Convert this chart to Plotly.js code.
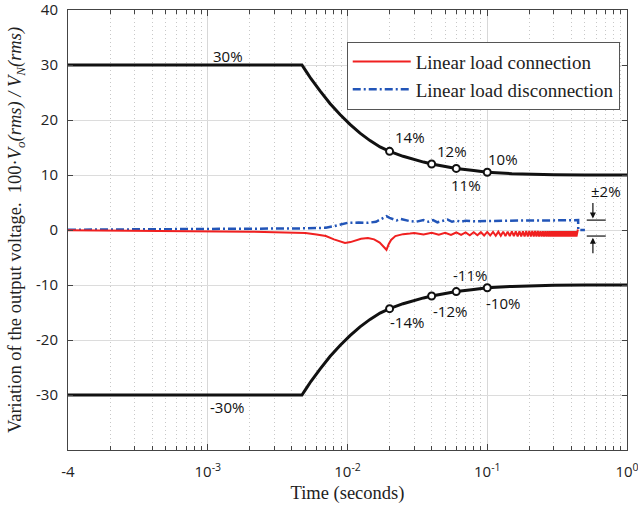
<!DOCTYPE html>
<html><head><meta charset="utf-8">
<script src="https://cdn.plot.ly/plotly-3.0.1.min.js"></script>
<style>html,body{margin:0;padding:0;background:#fff}#chart{width:638px;height:510px}</style>
</head><body><div id="chart"></div>
<script>
// Envelope (tolerance limits)
const envT   = [0.0001,0.00472,0.0051,0.00548,0.00636,0.00749,0.00884,0.01042,0.01229,0.01449,0.01709,0.020,0.025,0.030,0.035,0.040,0.050,0.060,0.080,0.100,0.150,0.200,0.300,0.500,1.0];
const envUp  = [30,30,28.7,27.5,25.3,23.0,21.0,19.2,17.6,16.25,15.1,14.3,13.4,12.8,12.35,12.0,11.5,11.2,10.8,10.5,10.25,10.15,10.05,10.0,10.0];
const envLow = [-30,-30,-28.7,-27.5,-25.3,-23.0,-21.0,-19.2,-17.6,-16.25,-15.1,-14.3,-13.4,-12.8,-12.35,-12.0,-11.5,-11.2,-10.8,-10.5,-10.25,-10.15,-10.05,-10.0,-10.0];
// Marked points on the envelope
const markT   = [0.02,0.04,0.06,0.1];
const markUp  = [14.3,12.0,11.2,10.5];
const markLow = [-14.3,-12.0,-11.2,-10.5];
// Linear load connection (red)
const redT = [0.0001,0.0003,0.001,0.002,0.003,0.004,0.005,0.006,0.007,0.008,0.009,0.0096,0.0105,0.0115,0.0125,0.014,0.0155,0.017,0.018,0.019,0.0197,0.0205,0.022,0.025,0.028,
  0.030,0.035,0.040,0.045,0.050,0.055,0.060,0.065,0.070,0.075,0.080,0.085,0.090,0.095,0.100,0.105,0.110,0.115,0.120,0.125,0.130,0.135,0.140,0.145,0.150,0.155,0.160,0.165,0.170,0.175,0.180,0.185,
  0.190,0.195,0.200,0.205,0.210,0.215,0.220,0.225,0.230,0.235,0.240,0.245,0.250,0.255,0.260,0.265,0.270,0.275,0.280,0.285,0.290,0.295,0.300,0.305,0.310,0.315,0.320,0.325,0.330,0.335,0.340,0.345,
  0.350,0.355,0.360,0.365,0.370,0.375,0.380,0.385,0.390,0.395,0.400,0.405,0.410,0.415,0.420,0.425,0.430,0.435,0.440,0.445,0.4465,0.447];
const redV = [-0.05,-0.1,-0.2,-0.3,-0.4,-0.45,-0.55,-0.8,-1.1,-1.7,-2.2,-2.35,-2.2,-1.9,-1.6,-1.45,-1.7,-2.3,-2.9,-3.6,-2.6,-1.8,-1.1,-0.75,-0.65,
  -0.55,-0.80,-0.50,-0.85,-0.50,-0.90,-0.45,-0.90,-0.45,-0.95,-0.40,-0.95,-0.40,-1.00,-0.35,-1.00,-0.35,-1.05,-0.30,-1.05,-0.30,-1.10,-0.30,-1.10,-0.25,-1.10,-0.25,-1.15,-0.25,-1.15,-0.25,-1.15,
  -0.20,-1.20,-0.20,-1.20,-0.20,-1.20,-0.20,-1.20,-0.20,-1.20,-0.20,-1.20,-0.20,-1.20,-0.20,-1.20,-0.20,-1.20,-0.20,-1.20,-0.20,-1.20,-0.20,-1.20,-0.20,-1.20,-0.20,-1.20,-0.20,-1.20,-0.20,-1.20,
  -0.20,-1.20,-0.20,-1.20,-0.20,-1.20,-0.20,-1.20,-0.20,-1.20,-0.20,-1.20,-0.20,-1.20,-0.20,-1.20,-0.20,-1.20,-0.30,0.1];
// Linear load disconnection (blue)
const blueT = [0.0001,0.0003,0.001,0.002,0.003,0.004,0.005,0.006,0.007,0.008,0.009,0.010,0.012,0.014,0.016,0.018,0.019,0.020,0.0225,0.024,0.026,0.028,0.031,0.035,0.038,0.041,0.044,0.048,0.052,0.056,0.060,0.065,0.070,0.080,0.100,0.150,0.200,0.300,0.400,0.447,0.448,0.500];
const blueV = [0.05,0.08,0.12,0.18,0.25,0.28,0.3,0.32,0.4,0.7,1.0,1.3,1.35,1.3,1.5,2.1,2.5,2.2,1.75,2.0,1.8,1.6,1.5,1.8,1.5,1.8,1.4,1.7,1.9,1.5,1.7,1.5,1.7,1.6,1.65,1.7,1.75,1.75,1.8,1.8,0.0,0.0];

const xTickVals = [0.0001,0.001,0.01,0.1,1];
const xTickText = ['-4','10<sup>-3</sup>','10<sup>-2</sup>','10<sup>-1</sup>','10<sup>0</sup>'];
const yTickVals = [-40,-30,-20,-10,0,10,20,30,40];
const yTickText = ['','-30','-20','-10','0','10','20','30','40'];

const minorVals = [];
for (let d = -4; d < 0; d++) for (let k = 2; k <= 9; k++) minorVals.push(k * Math.pow(10, d));

const serif = 'Liberation Serif, Times New Roman, serif';
const sans = 'Open Sans, Liberation Sans, sans-serif';

const traces = [
  {x: envT, y: envUp, mode: 'lines', line: {color: '#111', width: 3}, showlegend: false, hoverinfo: 'skip'},
  {x: envT, y: envLow, mode: 'lines', line: {color: '#111', width: 3}, showlegend: false, hoverinfo: 'skip'},
  {x: markT, y: markUp, mode: 'markers', marker: {symbol: 'circle', size: 7, color: '#fff', line: {color: '#111', width: 2}}, showlegend: false},
  {x: markT, y: markLow, mode: 'markers', marker: {symbol: 'circle', size: 7, color: '#fff', line: {color: '#111', width: 2}}, showlegend: false},
  {x: blueT, y: blueV, mode: 'lines', name: 'Linear load disconnection', line: {color: '#2255b8', width: 2.5, dash: '8px,3px,2px,3px'}},
  {x: redT, y: redV, mode: 'lines', name: 'Linear load connection', line: {color: '#f02020', width: 2}}
];

const lbl = (x, y, t) => ({x: x, y: y, xref: 'x', yref: 'y', text: t, showarrow: false, font: {family: sans, size: 15, color: '#111'}});

const layout = {
  width: 638, height: 510,
  margin: {l: 68, r: 11, t: 10, b: 60},
  paper_bgcolor: '#fff', plot_bgcolor: '#fff',
  showlegend: true,
  legend: {x: 0.987, y: 0.928, xanchor: 'right', yanchor: 'top', traceorder: 'reversed',
    bgcolor: '#fff', bordercolor: '#555', borderwidth: 1, itemwidth: 58,
    font: {family: serif, size: 19, color: '#222'}},
  xaxis: {
    type: 'log', range: [-4, 0],
    tickmode: 'array', tickvals: xTickVals, ticktext: xTickText,
    ticks: 'inside', ticklen: 6, tickcolor: '#444', mirror: 'ticks',
    showline: true, linecolor: '#444', linewidth: 1,
    showgrid: true, gridcolor: '#d8d8d8', gridwidth: 1,
    zeroline: false, ticklabelstandoff: 8, ticklabeloverflow: 'allow',
    tickfont: {family: sans, size: 15, color: '#222'},
    minor: {tickmode: 'array', tickvals: minorVals, ticks: 'inside', ticklen: 4, tickcolor: '#444',
      showgrid: true, gridcolor: '#c8c8c8', griddash: '1px,3px', gridwidth: 1},
    title: {text: 'Time (seconds)', font: {family: serif, size: 18.5, color: '#222'}, standoff: 6}
  },
  yaxis: {
    range: [-40, 40],
    tickmode: 'array', tickvals: yTickVals, ticktext: yTickText,
    ticks: 'inside', ticklen: 5, tickcolor: '#444', mirror: 'ticks',
    showline: true, linecolor: '#444', linewidth: 1,
    showgrid: true, gridcolor: '#dcdcdc', gridwidth: 1,
    zeroline: false, ticklabelstandoff: 6, ticklabeloverflow: 'allow',
    tickfont: {family: sans, size: 15, color: '#222'},
    title: {text: 'Variation of the output voltage.  100·<i>V<sub>o</sub></i><i>(rms) / V<sub>N</sub></i><i>(rms)</i>',
      font: {family: serif, size: 18.5, color: '#222'}}
  },
  shapes: [
    {type: 'line', xref: 'paper', yref: 'y', x0: 0.928, x1: 0.962, y0: 1.8, y1: 1.8, line: {color: '#111', width: 1.2}},
    {type: 'line', xref: 'paper', yref: 'y', x0: 0.928, x1: 0.962, y0: -1.1, y1: -1.1, line: {color: '#111', width: 1.2}}
  ],
  annotations: [
    lbl(-2.855, 31.6, '30%'),
    lbl(-2.862, -32.2, '-30%'),
    lbl(-1.553, 17.0, '14%'),
    lbl(-1.255, 14.3, '12%'),
    lbl(-0.887, 12.9, '10%'),
    lbl(-1.15, 8.2, '11%'),
    lbl(-1.123, -8.2, '-11%'),
    lbl(-0.887, -13.2, '-10%'),
    lbl(-1.267, -14.7, '-12%'),
    lbl(-1.574, -16.8, '-14%'),
    {x: 0.962, y: 7.1, xref: 'paper', yref: 'y', xanchor: 'center', text: '±2%', showarrow: false, font: {family: sans, size: 15, color: '#111'}},
    {x: 0.939, y: 2.1, xref: 'paper', yref: 'y', text: '', showarrow: true, ax: 0, ay: -17, arrowhead: 2, arrowsize: 1, arrowwidth: 1.2, arrowcolor: '#111'},
    {x: 0.939, y: -1.4, xref: 'paper', yref: 'y', text: '', showarrow: true, ax: 0, ay: 17, arrowhead: 2, arrowsize: 1, arrowwidth: 1.2, arrowcolor: '#111'}
  ]
};

Plotly.newPlot('chart', traces, layout, {displayModeBar: false, staticPlot: true});
</script>
</body></html>
